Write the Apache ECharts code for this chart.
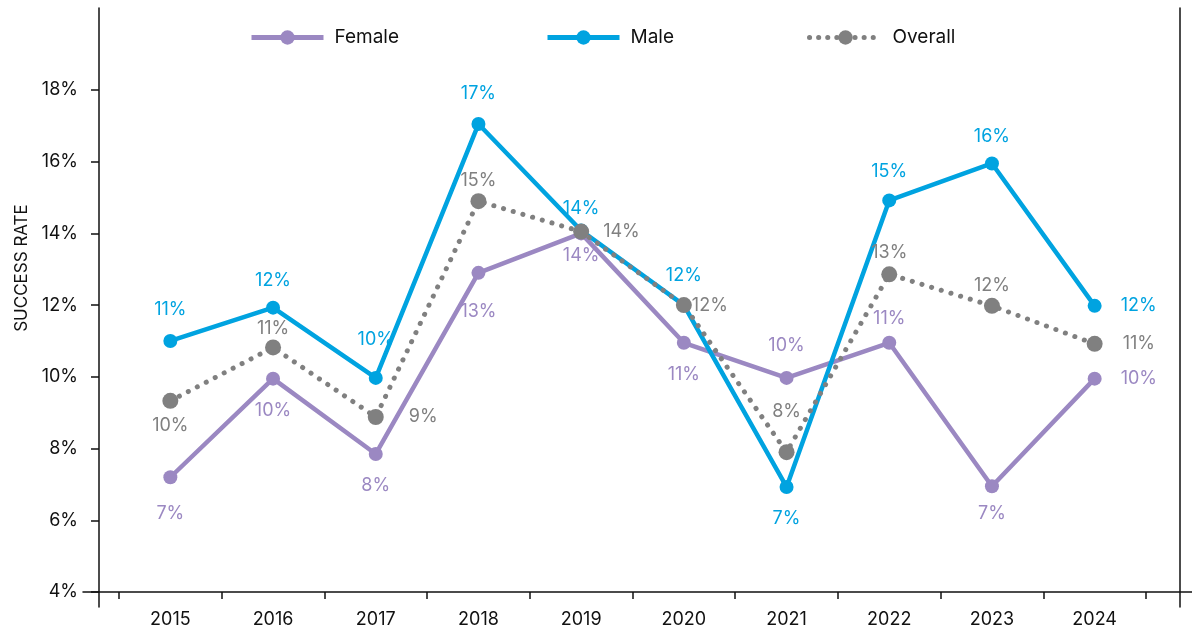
<!DOCTYPE html>
<html>
<head>
<meta charset="utf-8">
<script src="https://cdn.jsdelivr.net/npm/echarts@6/dist/echarts.min.js"></script>
<style>
  html, body { margin: 0; padding: 0; background: #fff; }
  #chart { width: 1192px; height: 637px; }
</style>
</head>
<body>
<div id="chart"></div>
<script>
// years and success rates (%)
var years = ['2015', '2016', '2017', '2018', '2019', '2020', '2021', '2022', '2023', '2024'];
var female = [7.2, 9.95, 7.85, 12.9, 14.0, 10.95, 9.97, 10.95, 6.95, 9.95];
var male = [11.0, 11.93, 9.97, 17.05, 14.08, 12.0, 6.93, 14.92, 15.95, 11.98];
var overall = [9.33, 10.82, 8.88, 14.9, 14.05, 12.0, 7.9, 12.86, 11.98, 10.92];
// the printed labels (as shown on the chart)
var femaleText = [7, 10, 8, 13, 14, 11, 10, 11, 7, 10];
var maleText = [11, 12, 10, 17, 14, 12, 7, 15, 16, 12];
var overallText = [10, 11, 9, 15, 14, 12, 8, 13, 12, 11];
var yTicks = [4, 6, 8, 10, 12, 14, 16, 18];

// label placement per point (style only)
var femalePos = ['bottom', 'bottom', 'bottom', 'bottom', 'bottom', 'bottom', 'top', 'top', 'bottom', 'right'];
var femaleDist = [20, 16, 16, 23, 6, 16, 16, 8, 11, 19];
var malePos = ['top', 'top', 'top', 'top', 'top', 'top', 'bottom', 'top', 'top', 'right'];
var maleDist = [15, 11, 22, 14, 6, 14, 16, 13, 11, 19];
var overallPos = ['bottom', 'top', 'right', 'top', 'right', 'right', 'top', 'top', 'top', 'right'];
var overallDist = [8, 2, 25, 4, 14, 0, 24, 5, 3, 20];

var FONT = 'Inter';
var FS = 18;
var PURPLE = '#9b88c2';
var BLUE = '#00a3e0';
var GREY = '#808080';

function withLabels(values, texts, pos, dist) {
    return values.map(function (v, i) {
        return {
            value: v,
            label: { position: pos[i], distance: dist[i], formatter: texts[i] + '%' }
        };
    });
}

function legendAt(left, name, lineStyle) {
    return {
        top: 28,
        left: left,
        padding: 0,
        itemWidth: 72,
        itemHeight: 18,
        textStyle: { fontSize: 19, color: '#111', fontFamily: FONT, padding: [0, 0, 0, 6] },
        data: [{ name: name, lineStyle: lineStyle }]
    };
}

var chart = echarts.init(document.getElementById('chart'));

var option = {
    animation: false,
    backgroundColor: '#fff',
    textStyle: { fontFamily: FONT },
    legend: [
        legendAt(249, 'Female', { width: 5 }),
        legendAt(545, 'Male', { width: 5 }),
        legendAt(807, 'Overall', { width: 5, type: [0.1, 9], cap: 'round' })
    ],
    grid: [
        { left: 119, right: 46, top: 10, bottom: 45 },
        { left: 83, right: 0, top: 10, bottom: 45 },
        { left: 99, right: 12, top: 8, bottom: 30 }
    ],
    xAxis: [
        {
            type: 'category',
            gridIndex: 0,
            data: years,
            boundaryGap: true,
            axisLine: { show: false },
            axisTick: { show: true, length: 7, lineStyle: { color: '#111', width: 1.5 } },
            axisLabel: { fontSize: FS, color: '#111', margin: 19, fontFamily: FONT },
            splitLine: { show: false }
        },
        {
            type: 'value', gridIndex: 1, min: 0, max: 1,
            axisLine: { show: true, lineStyle: { color: '#111', width: 1.5 } },
            axisTick: { show: false }, axisLabel: { show: false }, splitLine: { show: false }
        },
        { type: 'value', gridIndex: 2, show: false, min: 0, max: 1 }
    ],
    yAxis: [
        {
            type: 'value',
            gridIndex: 0,
            min: 4,
            max: 20.23,
            interval: 2,
            offset: 20,
            name: 'SUCCESS RATE',
            nameLocation: 'middle',
            nameRotate: 90,
            nameGap: 64,
            nameTextStyle: { fontSize: 17, color: '#111', padding: [0, 0, 0, 66], fontFamily: FONT },
            axisLine: { show: false },
            axisTick: { show: true, length: 8, customValues: yTicks, lineStyle: { color: '#111', width: 1.5 } },
            axisLabel: {
                fontSize: FS, color: '#111', margin: 21, fontFamily: FONT,
                customValues: yTicks,
                formatter: function (v) { return v > 19 ? '' : v + '%'; }
            },
            splitLine: { show: false }
        },
        { type: 'value', gridIndex: 1, show: false, min: 0, max: 1 },
        {
            type: 'value', gridIndex: 2, position: 'left', min: 0, max: 1,
            axisLine: { show: true, lineStyle: { color: '#111', width: 1.5 } },
            axisTick: { show: false }, axisLabel: { show: false }, splitLine: { show: false }
        },
        {
            type: 'value', gridIndex: 2, position: 'right', min: 0, max: 1,
            axisLine: { show: true, lineStyle: { color: '#111', width: 1.5 } },
            axisTick: { show: false }, axisLabel: { show: false }, splitLine: { show: false }
        }
    ],
    series: [
        {
            name: 'Female',
            type: 'line',
            xAxisIndex: 0, yAxisIndex: 0,
            data: withLabels(female, femaleText, femalePos, femaleDist),
            symbol: 'circle',
            symbolSize: 14,
            itemStyle: { color: PURPLE },
            lineStyle: { color: PURPLE, width: 4.5 },
            label: { show: true, color: PURPLE, fontSize: FS, fontFamily: FONT }
        },
        {
            name: 'Male',
            type: 'line',
            xAxisIndex: 0, yAxisIndex: 0,
            data: withLabels(male, maleText, malePos, maleDist),
            symbol: 'circle',
            symbolSize: 14,
            itemStyle: { color: BLUE },
            lineStyle: { color: BLUE, width: 4.5 },
            label: { show: true, color: BLUE, fontSize: FS, fontFamily: FONT }
        },
        {
            name: 'Overall',
            type: 'line',
            xAxisIndex: 0, yAxisIndex: 0,
            data: withLabels(overall, overallText, overallPos, overallDist),
            symbol: 'circle',
            symbolSize: 16,
            itemStyle: { color: GREY },
            lineStyle: { color: GREY, width: 5, type: [0.1, 10], cap: 'round' },
            label: { show: true, color: GREY, fontSize: FS, fontFamily: FONT }
        }
    ]
};

chart.setOption(option);
</script>
</body>
</html>
